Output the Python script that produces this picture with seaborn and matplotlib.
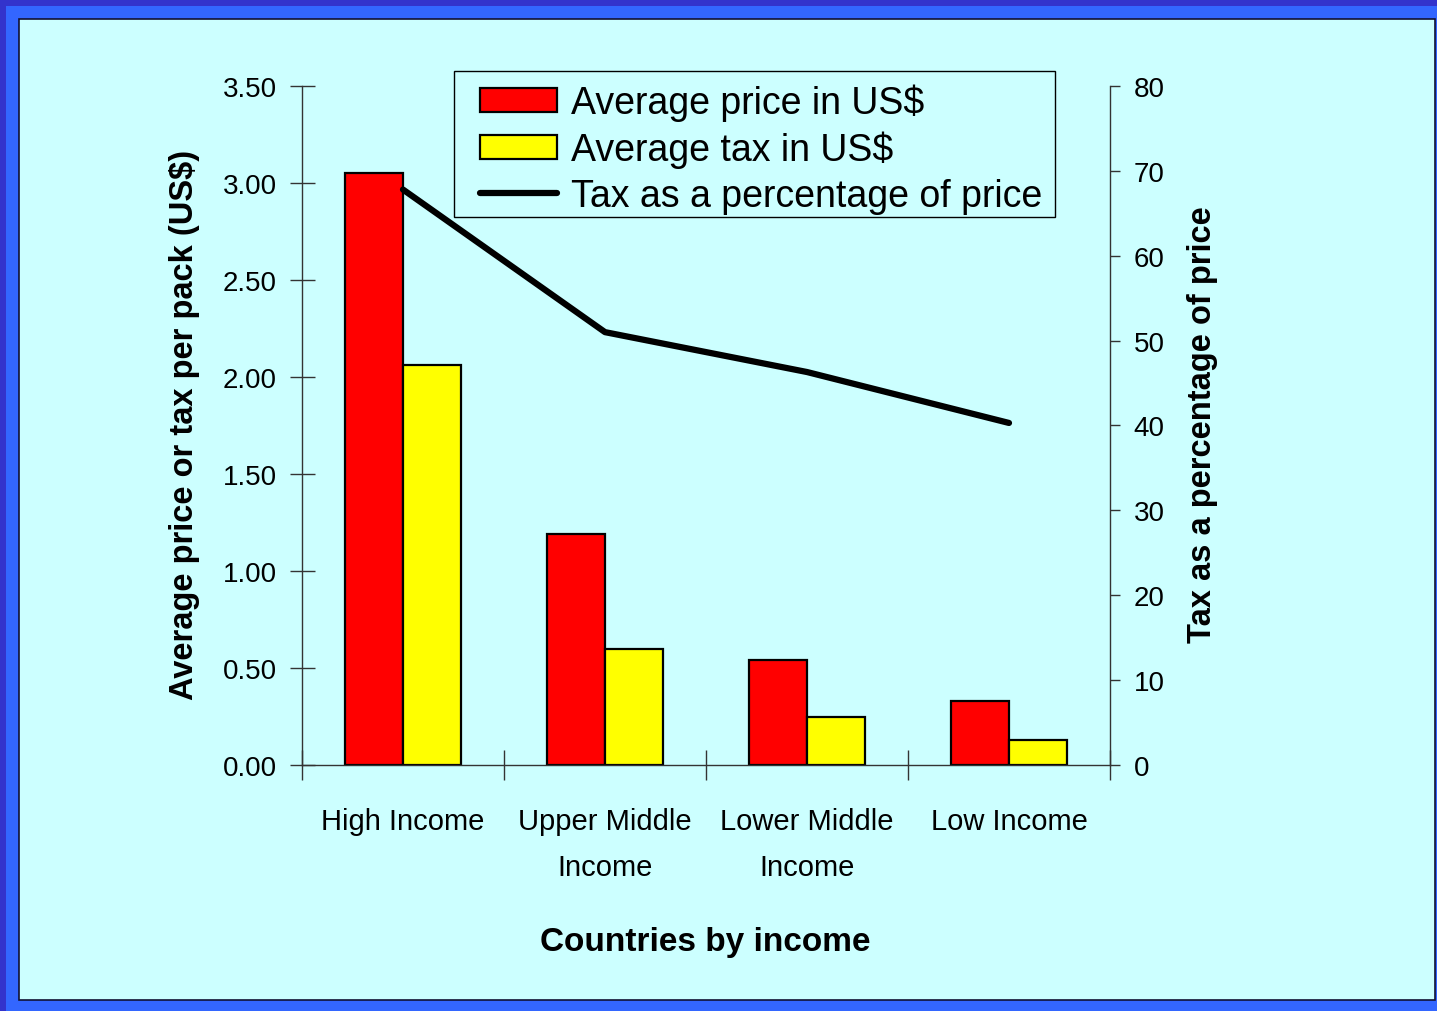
import matplotlib
matplotlib.use("Agg")
import matplotlib.pyplot as plt
from matplotlib.patches import Rectangle, Patch
from matplotlib.lines import Line2D
from matplotlib.ticker import FixedLocator, NullFormatter
import numpy as np
import pandas as pd
import seaborn as sns

# ---------------------------------------------------------------------------
# Daten
# ---------------------------------------------------------------------------
CATEGORIES = ["High Income", "Upper Middle\nIncome", "Lower Middle\nIncome", "Low Income"]
AVG_PRICE = [3.05, 1.19, 0.54, 0.33]
AVG_TAX = [2.06, 0.60, 0.25, 0.13]
TAX_PCT = [67.8, 51.0, 46.3, 40.3]

SERIES_PRICE = "Average price in US$"
SERIES_TAX = "Average tax in US$"
SERIES_PCT = "Tax as a percentage of price"

LEFT_TICKS = [0.0, 0.5, 1.0, 1.5, 2.0, 2.5, 3.0, 3.5]
RIGHT_TICKS = [0, 10, 20, 30, 40, 50, 60, 70, 80]

# ---------------------------------------------------------------------------
# Stil
# ---------------------------------------------------------------------------
sns.set_theme(style="white")
plt.rcParams["font.family"] = ["Liberation Sans", "DejaVu Sans"]
plt.rcParams["text.color"] = "black"
plt.rcParams["axes.labelcolor"] = "black"
plt.rcParams["xtick.color"] = "black"
plt.rcParams["ytick.color"] = "black"

PANEL_COLOR = "#ccffff"
BLUE = "#3366ff"
DARK_BLUE = "#3333cc"
RED = "#ff0000"
YELLOW = "#ffff00"
AXIS_GREY = "#333333"

W, H = 1437, 1012
fig = plt.figure(figsize=(W / 100, H / 100), dpi=100, facecolor=BLUE)

# Rahmen: dunkler Streifen oben/links, Hellblau, Cyan-Panel
fig.patches.append(Rectangle((0, 1 - 7 / H), 1, 7 / H, transform=fig.transFigure,
                             facecolor=DARK_BLUE, edgecolor="none", zorder=-3))
fig.patches.append(Rectangle((0, 0), 6 / W, 1, transform=fig.transFigure,
                             facecolor=DARK_BLUE, edgecolor="none", zorder=-3))
fig.patches.append(Rectangle((19 / W, 1 - 1001 / H), (1435 - 19) / W, (1001 - 20) / H,
                             transform=fig.transFigure, facecolor=PANEL_COLOR,
                             edgecolor="#111133", linewidth=1.2, zorder=-2))

ax = fig.add_axes([302 / W, 1 - 766 / H, (1110 - 302) / W, (766 - 87) / H])
ax.set_facecolor("none")

bars = pd.DataFrame({
    "category": CATEGORIES * 2,
    "value": AVG_PRICE + AVG_TAX,
    "series": [SERIES_PRICE] * len(CATEGORIES) + [SERIES_TAX] * len(CATEGORIES),
})
sns.barplot(
    data=bars, x="category", y="value", hue="series",
    palette={SERIES_PRICE: RED, SERIES_TAX: YELLOW},
    width=0.57, edgecolor="black", linewidth=1.6, saturation=1,
    legend=False, ax=ax,
)

ax.set_xlim(-0.5, len(CATEGORIES) - 0.5)
ax.set_ylim(0, 3.5)
ax.set_yticks(LEFT_TICKS)
ax.set_yticklabels([f"{t:.2f}" for t in LEFT_TICKS], fontsize=20)
ax.tick_params(axis="y", direction="inout", length=18, width=1, color=AXIS_GREY,
               pad=9, left=True)
ax.set_xticks(range(len(CATEGORIES)))
ax.set_xticklabels(CATEGORIES, fontsize=21, linespacing=1.85)
ax.tick_params(axis="x", which="major", length=0, pad=30, bottom=True)
ax.xaxis.set_minor_locator(FixedLocator(np.arange(-0.5, len(CATEGORIES), 1.0)))
ax.xaxis.set_minor_formatter(NullFormatter())
ax.tick_params(axis="x", which="minor", direction="inout", length=22, width=1,
               color=AXIS_GREY, bottom=True)
ax.set_xlabel("")
ax.set_ylabel("")

for side in ["top", "right"]:
    ax.spines[side].set_visible(False)
for side in ["left", "bottom"]:
    ax.spines[side].set_color(AXIS_GREY)
    ax.spines[side].set_linewidth(1)

# Sekundärachse: Steueranteil
ax2 = ax.twinx()
ax2.set_facecolor("none")
sns.lineplot(x=np.arange(len(CATEGORIES)), y=TAX_PCT, color="black", linewidth=4.5,
             ax=ax2, legend=False, solid_capstyle="round", solid_joinstyle="round")
ax2.set_ylim(0, 80)
ax2.set_yticks(RIGHT_TICKS)
ax2.set_yticklabels([str(t) for t in RIGHT_TICKS], fontsize=20)
ax2.tick_params(axis="y", direction="out", length=7, width=1, color=AXIS_GREY,
                pad=10, right=True)
for side in ["top", "left", "bottom"]:
    ax2.spines[side].set_visible(False)
ax2.spines["right"].set_color(AXIS_GREY)
ax2.spines["right"].set_linewidth(1)
ax2.set_ylabel("")

# Achsentitel
fig.text(185 / W, 1 - 425 / H, "Average price or tax per pack (US$)", rotation=90,
         ha="center", va="center", fontsize=23.5, fontweight="bold")
fig.text(1203 / W, 1 - 425 / H, "Tax as a percentage of price", rotation=90,
         ha="center", va="center", fontsize=23.5, fontweight="bold")
fig.text(705 / W, 1 - 943 / H, "Countries by income", ha="center", va="center",
         fontsize=24, fontweight="bold")

# Legende: Rahmen separat, damit die Innenabstände stimmen
legend_box = Rectangle((454 / W, 1 - 218 / H), (1055 - 454) / W, (218 - 72) / H,
                       transform=fig.transFigure, facecolor=PANEL_COLOR,
                       edgecolor="black", linewidth=1, zorder=5, clip_on=False)
ax2.add_patch(legend_box)

handles = [
    Patch(facecolor=RED, edgecolor="black", linewidth=1.6),
    Patch(facecolor=YELLOW, edgecolor="black", linewidth=1.6),
    Line2D([0], [0], color="black", linewidth=4.5, solid_capstyle="round"),
]
leg = ax2.legend(
    handles, [SERIES_PRICE, SERIES_TAX, SERIES_PCT],
    loc="upper left", bbox_to_anchor=(480 / W, 1 - 85 / H),
    bbox_transform=fig.transFigure, borderaxespad=0, borderpad=0,
    fontsize=27, frameon=False,
    handlelength=2.05, handleheight=0.6, handletextpad=0.38,
    labelspacing=0.25,
)
leg.set_zorder(6)

fig.savefig("out.png", dpi=100, facecolor=fig.get_facecolor())
